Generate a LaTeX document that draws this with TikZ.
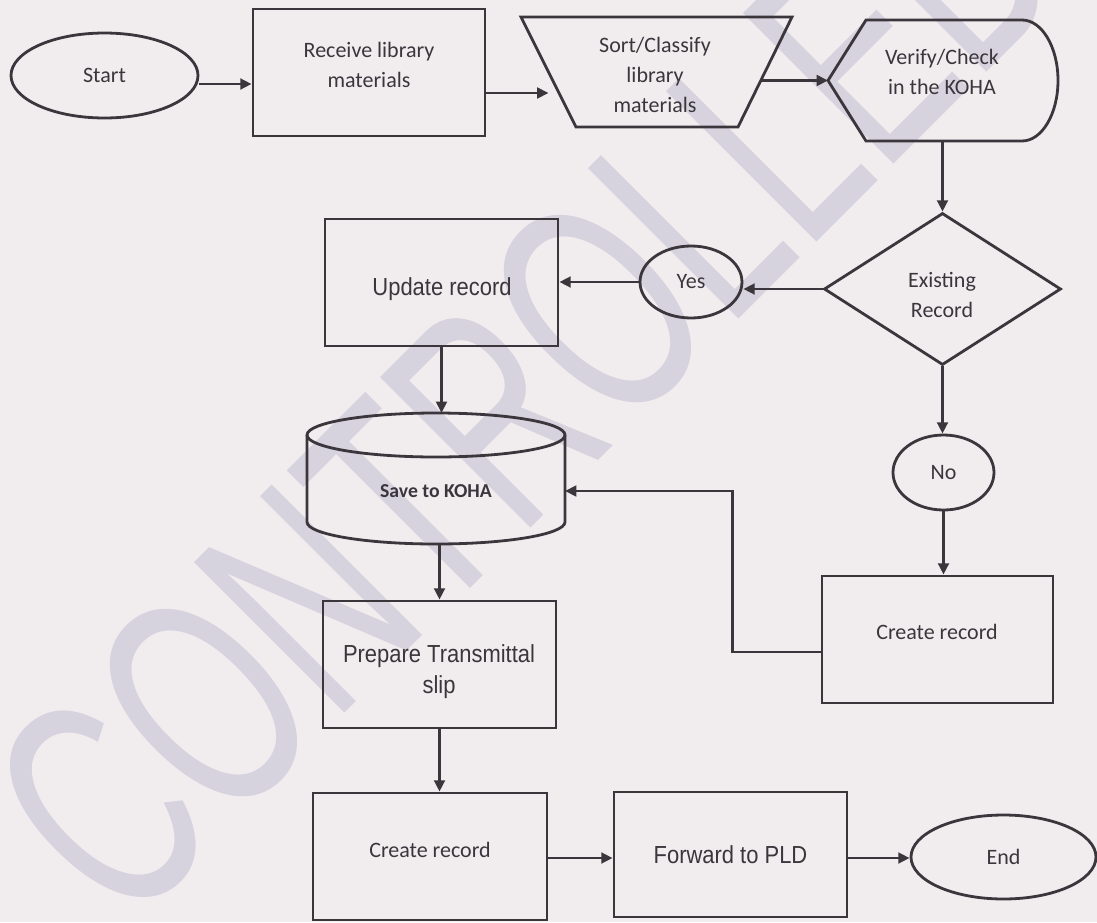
\documentclass[tikz,border=0pt]{standalone}
\usepackage{fontspec}
\usetikzlibrary{shapes.geometric, arrows.meta, calc}
\newfontfamily\calibri{Carlito}
\newfontfamily\arialn{Liberation Sans}[FakeStretch=0.89]
\newfontfamily\wmfont{Liberation Sans}[FakeStretch=0.636]
\definecolor{paper}{RGB}{241,237,239}
\definecolor{ink}{RGB}{58,54,60}
\definecolor{wm}{RGB}{214,210,222}

\begin{document}
\begin{tikzpicture}[x=0.75pt, y=-0.75pt,
  outline/.style={draw=ink, line width=2.1pt},
  box/.style={outline, rectangle, inner sep=0pt},
  oval/.style={outline, ellipse, inner sep=0pt},
  arr/.style={draw=ink, line width=2.1pt, -{Triangle[length=8.5pt,width=8pt]}},
  cal/.style={text=ink, font=\calibri\fontsize{16.5}{22.5}\selectfont, align=center, inner sep=0pt},
  calb/.style={text=ink, font=\calibri\bfseries\fontsize{14.8}{18}\selectfont, inner sep=0pt},
  ari/.style={text=ink, font=\arialn\fontsize{18.5}{23.25}\selectfont, align=center, inner sep=0pt},
]
% paper and page frame
\fill[paper] (0,0) rectangle (1097,922);
\useasboundingbox (0,0) rectangle (1097,922);

% diagonal stamp behind the chart
\begin{scope}
  \clip (0,0) rectangle (1097,922);
  \node[rotate=45, anchor=base west, inner sep=0pt, text=wm,
        font=\wmfont\fontsize{232}{232}\selectfont] (stamp) at (125,933.5) {CONTROLLED};
\end{scope}

% ---- top row ----
\node[oval, cal, minimum width=140.25pt, minimum height=63.75pt] (start) at (104.5,75.5) {Start};

\node[box, minimum width=174pt, minimum height=95.25pt] (receive) at (369,72.5) {};
\node[cal] (receive-t) at (369,65) {Receive library\\materials};

% manual operation (trapezoid)
\coordinate (sort-w) at (548.5,72);
\coordinate (sort-e) at (762,72);
\draw[outline] (521,17) -- (792,17) -- (738,127) -- (576,127) -- cycle;
\node[cal] (sort) at (655,75) {Sort/Classify\\library\\materials};

% display shape
\coordinate (verify-w) at (828,80.5);
\coordinate (verify-s) at (944,141);
\draw[outline] (verify-w) -- (866,20) -- (1022,20)
  arc[start angle=90, end angle=-90, x radius=27pt, y radius=45.375pt] -- (866,141) -- cycle;
\node[cal] (verify) at (942,72) {Verify/Check\\in the KOHA};

% ---- decision ----
\node[outline, diamond, minimum width=177.75pt, minimum height=114pt, inner sep=0pt] (exist) at (942.5,289) {};
\node[cal] (exist-t) at (942,295) {Existing\\Record};

\node[oval, cal, minimum width=76.5pt, minimum height=54pt] (yes) at (691,282) {Yes};

\node[box, minimum width=174.75pt, minimum height=95.25pt] (update) at (441.5,282.5) {};
\node[ari] (update-t) at (442,289) {Update record};

% ---- database ----
\coordinate (save-n) at (436,413);
\coordinate (save-s) at (436,544);
\coordinate (save-e) at (565,491);
\draw[outline] (307,435) -- (307,522)
  arc[start angle=180, end angle=360, x radius=96.75pt, y radius=16.5pt] -- (565,435);
\draw[outline] (436,435) ellipse[x radius=96.75pt, y radius=16.5pt];
\node[calb] (save) at (436,491) {Save to KOHA};

% ---- right branch ----
\node[oval, cal, minimum width=75.75pt, minimum height=56.25pt] (no) at (943.5,472.5) {No};
\node[box, minimum width=173.25pt, minimum height=95.25pt] (create-a) at (937.5,639.5) {};
\node[cal] (create-a-t) at (937,632) {Create record};

% ---- bottom part ----
\node[box, minimum width=174.75pt, minimum height=95.25pt] (prepare) at (439.5,664.5) {};
\node[ari] (prepare-t) at (439,672) {Prepare Transmittal\\slip};

\node[box, minimum width=175.5pt, minimum height=95.25pt] (create-b) at (430,856.5) {};
\node[cal] (create-b-t) at (430,850) {Create record};

\node[box, ari, minimum width=174.75pt, minimum height=93.75pt] (forward) at (730.5,854.5) {Forward to PLD};
\node[oval, cal, minimum width=138.75pt, minimum height=63pt] (finish) at (1003.5,857) {End};

% ---- connectors ----
\draw[arr] ($(start.east)+(0,8.5)$) -- ($(receive.west)+(0,11.5)$);
\draw[arr] ($(receive.east)+(0,20.5)$) -- ($(receive.east -| sort-w)+(0,20.5)$);
\draw[arr] (sort-e |- verify-w) -- (verify-w);
\draw[arr] (verify-s -| exist.north) -- (exist.north);
\draw[arr] (exist.west) -- (yes.east |- exist.west);
\draw[arr] (yes.west) -- (update.east |- yes.west);
\draw[arr] (update.south) -- (update.south |- save-n);
\draw[arr] (save-s -| prepare.north) -- (prepare.north);
\draw[arr] (prepare.south) -- (prepare.south |- create-b.north);
\draw[arr] ($(create-b.east)+(0,1.5)$) -- ($(create-b.east -| forward.west)+(0,1.5)$);
\draw[arr] ($(forward.east)+(0,3.5)$) -- ($(forward.east -| finish.west)+(0,3.5)$);
\draw[arr] (exist.south) -- (exist.south |- no.north);
\draw[arr] (no.south) -- (no.south |- create-a.north);
\draw[arr] ($(create-a.west)+(0,12.5)$) -- ++(-88,0) |- (save-e);
\end{tikzpicture}
\end{document}
